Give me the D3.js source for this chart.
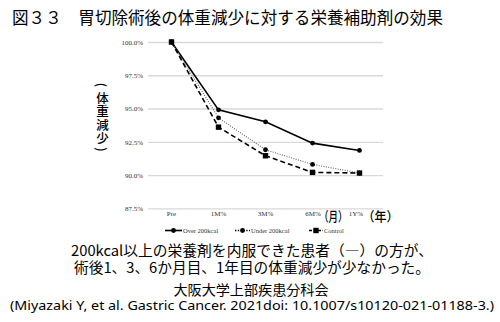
<!DOCTYPE html>
<html>
<head>
<meta charset="utf-8">
<script src="https://cdn.jsdelivr.net/npm/d3@7"></script>
<style>
  html, body { margin: 0; padding: 0; background: #fff; }
  svg { display: block; }
</style>
</head>
<body>
<svg id="chart" width="500" height="322"></svg>
<script>
// Time points after gastrectomy
const categories = ["Pre", "1M%", "3M%", "6M%", "1Y%"];
// Body weight relative to pre-operative weight (%)
const overValues = [100, 94.9, 94.0, 92.4, 91.85];
const underValues = [100, 94.3, 91.9, 90.8, 90.15];
const controlValues = [100, 93.6, 91.45, 90.2, 90.15];
const yTicks = [87.5, 90.0, 92.5, 95.0, 97.5, 100.0];
const seriesNames = ["Over 200kcal", "Under 200kcal", "Control"];

const titleText = "図３３　胃切除術後の体重減少に対する栄養補助剤の効果";
const yLabelText = "（体重減少）";
const noteLines = [
  "200kcal以上の栄養剤を内服できた患者（―）の方が、",
  "術後1、3、6か月目、1年目の体重減少が少なかった。"
];
const groupText = "大阪大学上部疾患分科会";
const citeText = "(Miyazaki Y, et al. Gastric Cancer. 2021doi: 10.1007/s10120-021-01188-3.)";

const svg = d3.select("#chart");
const jp = "'Noto Sans CJK JP', 'Noto Sans', sans-serif";
const serif = "'Liberation Serif', 'DejaVu Serif', serif";

// Title
svg.append("text")
  .attr("x", 12).attr("y", 17)
  .attr("dominant-baseline", "central")
  .attr("font-family", jp).attr("font-size", 16.6)
  .attr("textLength", 431).attr("lengthAdjust", "spacingAndGlyphs")
  .text(titleText);

// Scales
const x = d3.scaleBand().domain(categories).range([148, 383]).padding(0);
const cx = d => x(d) + x.bandwidth() / 2;
const y = d3.scaleLinear().domain([87.5, 100]).range([208.3, 42]);

// Gridlines + y labels
const yAxis = d3.axisLeft(y)
  .tickValues(yTicks)
  .tickSize(-(x.range()[1] - x.range()[0]))
  .tickPadding(5)
  .tickFormat(d => d3.format(".1f")(d) + "%");
const gy = svg.append("g").attr("transform", `translate(${x.range()[0]},0)`).call(yAxis);
gy.select(".domain").remove();
gy.selectAll(".tick line").attr("stroke", "#d9d9d9").attr("stroke-width", 1.3);
gy.selectAll(".tick text")
  .attr("font-family", serif).attr("font-size", 7).attr("fill", "#333");

// X labels
const xAxis = d3.axisBottom(x).tickSize(0).tickPadding(0);
const gx = svg.append("g").attr("transform", "translate(0,211)").call(xAxis);
gx.select(".domain").remove();
gx.selectAll(".tick text")
  .attr("font-family", serif).attr("font-size", 7).attr("fill", "#333")
  .attr("dx", d => d === "1Y%" ? -3.5 : d === "6M%" ? 0.5 : 0);

// Unit markers next to the 6M and 1Y labels
svg.append("text")
  .attr("x", cx("6M%") + 6.5).attr("y", 215.5)
  .attr("dominant-baseline", "central")
  .attr("font-family", jp).attr("font-size", 13).attr("font-weight", 500)
  .attr("textLength", 28.5).attr("lengthAdjust", "spacingAndGlyphs")
  .text("（月）");
svg.append("text")
  .attr("x", cx("1Y%") + 3).attr("y", 215.5)
  .attr("dominant-baseline", "central")
  .attr("font-family", jp).attr("font-size", 13).attr("font-weight", 500)
  .attr("textLength", 36).attr("lengthAdjust", "spacingAndGlyphs")
  .text("（年）");

// Vertical axis caption, one glyph per line; brackets turned for vertical setting
const yLabelChars = Array.from(yLabelText);
const yLabelPos = [85, 97, 110.5, 124, 137.5, 149.5];
svg.append("g").selectAll("text")
  .data(yLabelChars)
  .join("text")
  .attr("x", 102.5)
  .attr("y", (d, i) => yLabelPos[i])
  .attr("text-anchor", "middle")
  .attr("dominant-baseline", "central")
  .attr("font-family", jp).attr("font-size", 12.5).attr("font-weight", 500)
  .attr("transform", (d, i) => (d === "（" || d === "）") ? `rotate(90,102.5,${yLabelPos[i]})` : null)
  .text(d => d === "（" ? "(" : d === "）" ? ")" : d);

// Series
const line = d3.line().x((d, i) => cx(categories[i])).y(d => y(d));
const series = [
  { name: seriesNames[0], values: overValues, color: "#000", width: 1.6, dash: null, marker: "circle" },
  { name: seriesNames[1], values: underValues, color: "#666", width: 1.1, dash: "1,1.4", marker: "circle" },
  { name: seriesNames[2], values: controlValues, color: "#000", width: 1.6, dash: "5,3", marker: "square" }
];

function drawMarker(g, type, px, py) {
  if (type === "circle") {
    g.append("circle").attr("cx", px).attr("cy", py).attr("r", 2.4).attr("fill", "#000");
  } else {
    g.append("rect").attr("x", px - 2.7).attr("y", py - 2.7)
      .attr("width", 5.4).attr("height", 5.4).attr("fill", "#000");
  }
}

series.forEach(s => {
  const g = svg.append("g");
  g.append("path")
    .attr("d", line(s.values))
    .attr("fill", "none")
    .attr("stroke", s.color)
    .attr("stroke-width", s.width)
    .attr("stroke-dasharray", s.dash);
  s.values.forEach((v, i) => drawMarker(g, s.marker, cx(categories[i]), y(v)));
});

// Legend
const legendY = 230.5;
const legendItems = [
  { x0: 165, x1: 182, tx: 183 },
  { x0: 235, x1: 250, tx: 251 },
  { x0: 309, x1: 323, tx: 324 }
];
series.forEach((s, i) => {
  const li = legendItems[i];
  const g = svg.append("g");
  g.append("line")
    .attr("x1", li.x0).attr("x2", li.x1)
    .attr("y1", legendY).attr("y2", legendY)
    .attr("stroke", i === 1 ? "#000" : s.color)
    .attr("stroke-width", i === 1 ? 1.4 : 1.6)
    .attr("stroke-dasharray", i === 1 ? "1.4,1.4" : (s.dash ? "3,1.5" : null));
  drawMarker(g, s.marker, (li.x0 + li.x1) / 2, legendY);
  g.append("text")
    .attr("x", li.tx).attr("y", legendY)
    .attr("dominant-baseline", "central")
    .attr("font-family", serif).attr("font-size", 6.5).attr("fill", "#333")
    .text(s.name);
});

// Notes
noteLines.forEach((t, i) => {
  svg.append("text")
    .attr("x", 252).attr("y", 249 + i * 17)
    .attr("text-anchor", "middle")
    .attr("dominant-baseline", "central")
    .attr("font-family", jp).attr("font-size", 14.5)
    .attr("textLength", i === 0 ? 362 : 356).attr("lengthAdjust", "spacingAndGlyphs")
    .text(t);
});
svg.append("text")
  .attr("x", 251).attr("y", 288.5)
  .attr("text-anchor", "middle")
  .attr("dominant-baseline", "central")
  .attr("font-family", jp).attr("font-size", 14)
  .attr("textLength", 155).attr("lengthAdjust", "spacingAndGlyphs")
  .text(groupText);
svg.append("text")
  .attr("x", 252).attr("y", 305)
  .attr("text-anchor", "middle")
  .attr("dominant-baseline", "central")
  .attr("font-family", "'Noto Sans', 'Liberation Sans', sans-serif").attr("font-size", 12.5)
  .attr("textLength", 484).attr("lengthAdjust", "spacingAndGlyphs")
  .text(citeText);
</script>
</body>
</html>
